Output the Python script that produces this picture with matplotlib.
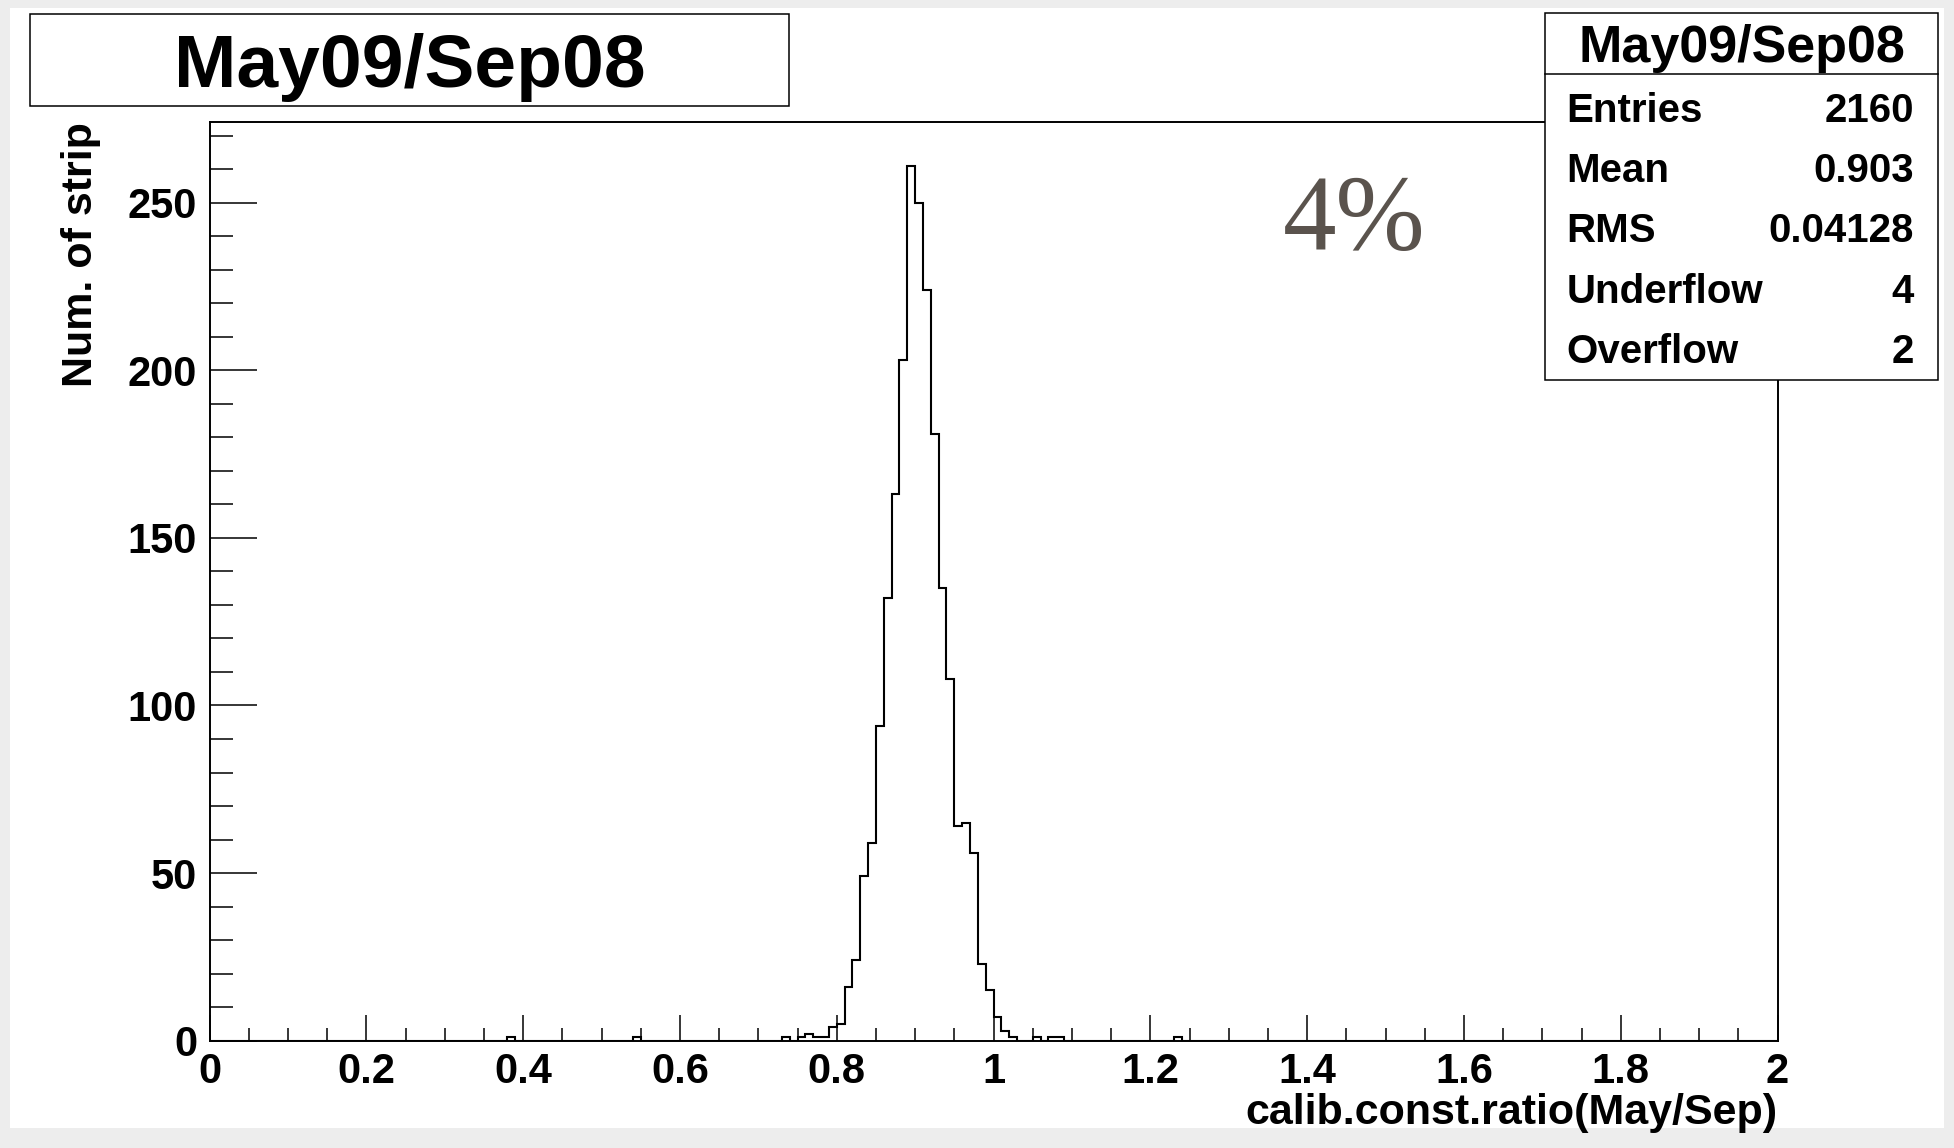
"""ROOT-style histogram of calibration constant ratios (May09 / Sep08)."""

import matplotlib

matplotlib.use("Agg")

import matplotlib.pyplot as plt  # noqa: E402
import numpy as np  # noqa: E402
from matplotlib.patches import Rectangle  # noqa: E402
from matplotlib.ticker import FuncFormatter, MultipleLocator  # noqa: E402

# histogram: 200 bins of width 0.01 on [0, 2]; only non-empty bins listed
n_bins = 200
x_lo, x_hi = 0.0, 2.0
bin_index = [38, 54, 73, 75, 76, 77, 78, 79, 80, 81, 82, 83, 84, 85, 86, 87, 88,
             89, 90, 91, 92, 93, 94, 95, 96, 97, 98, 99, 100, 101, 102, 105, 107,
             108, 123]
bin_count = [1, 1, 1, 1, 2, 1, 1, 4, 5, 16, 24, 49, 59, 94, 132, 163, 203,
             261, 250, 224, 181, 135, 108, 64, 65, 56, 23, 15, 7, 3, 1, 1, 1,
             1, 1]

title = "May09/Sep08"
stat_labels = ["Entries", "Mean", "RMS", "Underflow", "Overflow"]
stat_values = ["2160", "0.903", "0.04128", "4", "2"]
x_title = "calib.const.ratio(May/Sep)"
y_title = "Num. of strip"
note = "4%"

W, H = 1954, 1148
FONT = "Liberation Sans"


def fx(px):
    return px / W


def fy(py):
    return 1 - py / H


counts = np.zeros(n_bins)
counts[bin_index] = bin_count
edges = np.linspace(x_lo, x_hi, n_bins + 1)

fig = plt.figure(figsize=(W / 100, H / 100), dpi=100, facecolor="#ededed")
fig.add_artist(Rectangle((fx(10), fy(1128)), fx(1934), 1120 / H,
                         transform=fig.transFigure, fc="white", ec="none", zorder=-1))

ax = fig.add_axes([fx(209.5), fy(1040.7), fx(1568), 918.7 / H])
ax.stairs(counts, edges, color="black", lw=1.5)
ax.set_xlim(x_lo, x_hi)
ax.set_ylim(0, 1.05 * max(bin_count))

for s in ax.spines.values():
    s.set_linewidth(1.4)

ax.xaxis.set_major_locator(MultipleLocator(0.2))
ax.xaxis.set_minor_locator(MultipleLocator(0.05))
ax.yaxis.set_major_locator(MultipleLocator(50))
ax.yaxis.set_minor_locator(MultipleLocator(10))
ax.xaxis.set_major_formatter(FuncFormatter(lambda v, _: f"{v:g}"))
ax.tick_params(axis="both", which="both", direction="in", width=1.1,
               labelsize=30, top=False, right=False)
ax.tick_params(axis="x", which="major", length=19, pad=8)
ax.tick_params(axis="x", which="minor", length=9.5)
ax.tick_params(axis="y", which="major", length=34, pad=9)
ax.tick_params(axis="y", which="minor", length=16.5)
for lab in ax.get_xticklabels() + ax.get_yticklabels():
    lab.set_fontfamily(FONT)
    lab.set_fontweight("bold")

ax.text(1.0, (1040.7 - 1113) / 918.7, x_title, transform=ax.transAxes,
        ha="right", va="center", fontsize=31, fontweight="bold", family=FONT)
ax.text((81 - 209.5) / 1568, 1.0, y_title, transform=ax.transAxes, rotation=90,
        ha="center", va="top", fontsize=31, fontweight="bold", family=FONT)

# big grey annotation
fig.text(fx(1283), fy(250), note, ha="left", va="baseline", fontsize=77,
         family="Liberation Serif", color="#5a534d")

# title box
fig.add_artist(Rectangle((fx(30), fy(106)), fx(759), 92 / H, transform=fig.transFigure,
                         fc="white", ec="black", lw=1.1, zorder=5))
fig.text(fx(409.5), fy(87), title, ha="center", va="baseline", fontsize=54,
         fontweight="bold", family=FONT, zorder=6)

# stats box
fig.add_artist(Rectangle((fx(1545), fy(380)), fx(393), 366.7 / H,
                         transform=fig.transFigure, fc="white", ec="black", lw=1.1, zorder=5))
fig.add_artist(plt.Line2D([fx(1545), fx(1938)], [fy(74), fy(74)],
                          transform=fig.transFigure, color="black", lw=1.1, zorder=6))
fig.text(fx(1741.5), fy(62), title, ha="center", va="baseline", fontsize=37.5,
         fontweight="bold", family=FONT, zorder=6)
for i, (lab, val) in enumerate(zip(stat_labels, stat_values)):
    yb = fy(121.7 + i * 60.4)
    fig.text(fx(1566.7), yb, lab, ha="left", va="baseline", fontsize=29,
             fontweight="bold", family=FONT, zorder=6)
    fig.text(fx(1914), yb, val, ha="right", va="baseline", fontsize=29,
             fontweight="bold", family=FONT, zorder=6)

fig.savefig("out.png", dpi=100, facecolor=fig.get_facecolor())
